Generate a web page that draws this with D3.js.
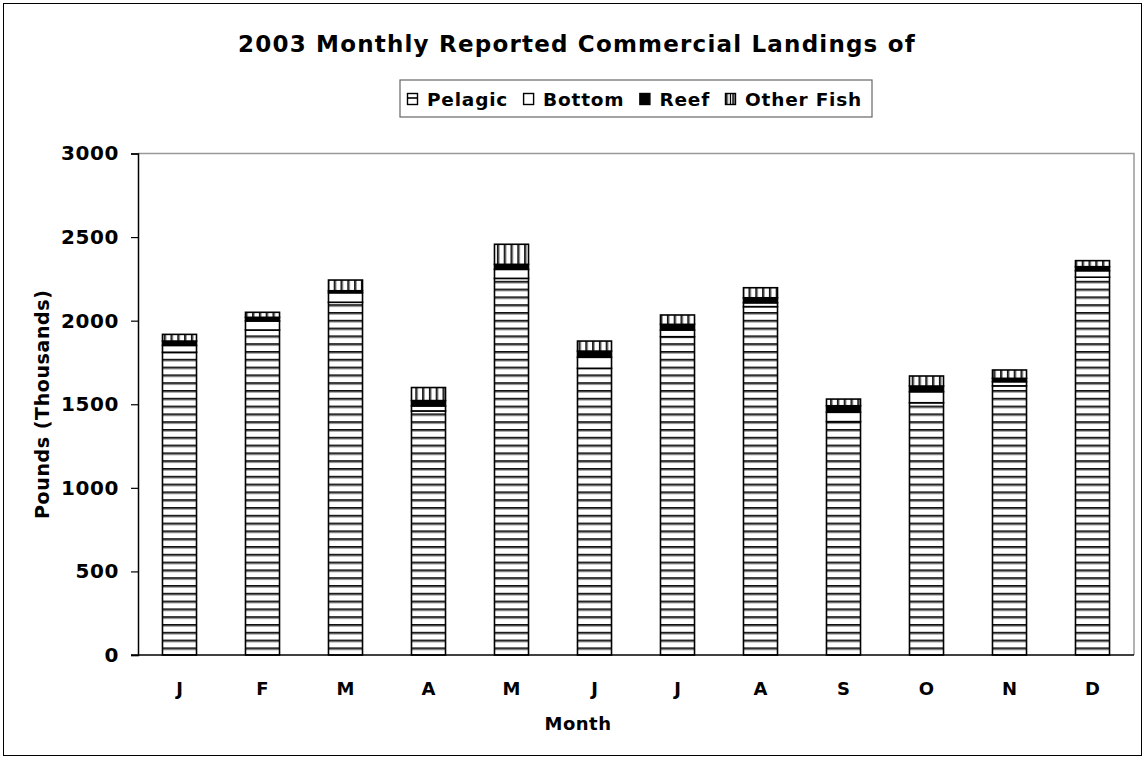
<!DOCTYPE html>
<html lang="en">
<head>
    <meta charset="UTF-8">
    <title>2003 Monthly Reported Commercial Landings</title>
    <script src="https://d3js.org/d3.v7.min.js"></script>
    <style>
        body { margin: 0; background: #fff; }
        text { font-family: "DejaVu Sans", Verdana, sans-serif; font-weight: bold; fill: #000; }
    </style>
</head>
<body>
    <script>
        // values in thousands of pounds
        const months = ["J","F","M","A","M","J","J","A","S","O","N","D"];
        const pelagic = [1811, 1944, 2110, 1460, 2253, 1715, 1904, 2084, 1396, 1509, 1610, 2260];
        const bottom  = [41, 54, 57, 30, 54, 66, 40, 23, 56, 66, 25, 39];
        const reef    = [26, 22, 12, 32, 30, 37, 34, 30, 39, 34, 20, 24];
        const other   = [40, 30, 64, 78, 120, 60, 56, 60, 40, 60, 50, 36];
        const seriesNames = ["Pelagic", "Bottom", "Reef", "Other Fish"];
        const yTicks = [0, 500, 1000, 1500, 2000, 2500, 3000];

        const width = 1145, height = 759;
        const plotLeft = 138, plotRight = 1134, plotTop = 153.5, plotBottom = 655;

        const svg = d3.select("body").append("svg")
            .attr("width", width)
            .attr("height", height);

        const defs = svg.append("defs");
        // horizontal stripes for pelagic
        const ph = defs.append("pattern").attr("id", "pat-pelagic")
            .attr("patternUnits", "userSpaceOnUse")
            .attr("width", 8).attr("height", 7.8);
        ph.append("rect").attr("width", 8).attr("height", 7.8).attr("fill", "#fff");
        ph.append("rect").attr("y", 0).attr("width", 8).attr("height", 1.8).attr("fill", "#111");
        ph.append("rect").attr("y", 1.8).attr("width", 8).attr("height", 1).attr("fill", "#999");
        // vertical stripes for other fish
        const pv = defs.append("pattern").attr("id", "pat-other")
            .attr("patternUnits", "userSpaceOnUse")
            .attr("width", 6.8).attr("height", 8)
            .attr("x", 0.5);
        pv.append("rect").attr("width", 6.8).attr("height", 8).attr("fill", "#fff");
        pv.append("rect").attr("x", 0).attr("width", 1.8).attr("height", 8).attr("fill", "#111");
        pv.append("rect").attr("x", 1.8).attr("width", 1).attr("height", 8).attr("fill", "#999");

        const fills = ["url(#pat-pelagic)", "#fff", "#000", "url(#pat-other)"];

        // outer chart border
        svg.append("rect")
            .attr("x", 3.5).attr("y", 3.5)
            .attr("width", width - 7).attr("height", height - 7)
            .attr("fill", "none").attr("stroke", "#000").attr("stroke-width", 1);

        const x = d3.scaleBand()
            .domain(d3.range(months.length))
            .range([plotLeft, plotRight])
            .paddingInner(0.59)
            .paddingOuter(0.295);

        const y = d3.scaleLinear()
            .domain([0, 3000])
            .range([plotBottom, plotTop]);

        // plot area border (top and right, grey)
        svg.append("path")
            .attr("d", `M${plotLeft},${plotTop}H${plotRight}V${plotBottom}`)
            .attr("fill", "none").attr("stroke", "#999").attr("stroke-width", 1.5);

        const rows = months.map((m, i) => ({
            i: i,
            Pelagic: pelagic[i], Bottom: bottom[i], Reef: reef[i], "Other Fish": other[i]
        }));
        const stacked = d3.stack().keys(seriesNames)(rows);

        svg.selectAll("g.series")
            .data(stacked)
            .join("g")
            .attr("class", "series")
            .attr("fill", (d, k) => fills[k])
            .selectAll("rect")
            .data(d => d)
            .join("rect")
            .attr("x", d => x(d.data.i))
            .attr("width", x.bandwidth())
            .attr("y", d => y(d[1]))
            .attr("height", d => y(d[0]) - y(d[1]))
            .attr("stroke", "#000")
            .attr("stroke-width", 1.6);

        // y axis
        const yAxis = svg.append("g")
            .attr("transform", `translate(${plotLeft},0)`)
            .call(d3.axisLeft(y).tickValues(yTicks).tickSize(7).tickPadding(12).tickFormat(d3.format("d")));
        yAxis.select(".domain").attr("stroke", "#000").attr("stroke-width", 1.5);
        yAxis.selectAll(".tick line").attr("stroke", "#000").attr("stroke-width", 1.2);
        yAxis.selectAll("text").style("font-size", "20px").style("letter-spacing", "0.6px");

        // x axis
        const xAxis = svg.append("g")
            .attr("transform", `translate(0,${plotBottom})`)
            .call(d3.axisBottom(x).tickSize(0).tickPadding(27).tickFormat(i => months[i]));
        xAxis.select(".domain").attr("d", `M${plotLeft - 7},0H${plotRight}`)
            .attr("stroke", "#000").attr("stroke-width", 1.5);
        xAxis.selectAll("text").style("font-size", "18px");

        // titles
        svg.append("text")
            .attr("x", 577).attr("y", 52)
            .attr("text-anchor", "middle")
            .style("font-size", "23px")
            .style("letter-spacing", "1.2px")
            .text("2003 Monthly Reported Commercial Landings of");

        svg.append("text")
            .attr("x", 578).attr("y", 730)
            .attr("text-anchor", "middle")
            .style("font-size", "18px")
            .style("letter-spacing", "0.5px")
            .text("Month");

        svg.append("text")
            .attr("transform", `translate(49,${(plotTop + plotBottom) / 2}) rotate(-90)`)
            .attr("text-anchor", "middle")
            .style("font-size", "19px")
            .style("letter-spacing", "0.6px")
            .text("Pounds (Thousands)");

        // legend
        const legendX = 400, legendY = 80, legendW = 472, legendH = 37;
        const lg = svg.append("g").attr("transform", `translate(${legendX},${legendY})`);
        lg.append("rect")
            .attr("width", legendW).attr("height", legendH)
            .attr("fill", "#fff").attr("stroke", "#666").attr("stroke-width", 1.2);
        const items = lg.selectAll("g.item")
            .data(seriesNames)
            .join("g")
            .attr("class", "item");
        items.append("rect")
            .attr("x", 0.5).attr("y", 13.5)
            .attr("width", 10).attr("height", 11)
            .attr("fill", (d, k) => k === 0 ? "#fff" : fills[k])
            .attr("stroke", "#000").attr("stroke-width", 1.4);
        items.filter((d, k) => k === 0).append("line")
            .attr("x1", 0.5).attr("x2", 10.5).attr("y1", 18).attr("y2", 18)
            .attr("stroke", "#000").attr("stroke-width", 1.6);
        items.filter((d, k) => k === 3).append("line")
            .attr("x1", 5.5).attr("x2", 5.5).attr("y1", 13.5).attr("y2", 24.5)
            .attr("stroke", "#000").attr("stroke-width", 1.3);
        items.append("text")
            .attr("x", 20).attr("y", 26)
            .style("font-size", "18.5px")
            .style("letter-spacing", "0.8px")
            .text(d => d);
        // lay items side by side from their text widths
        let cursor = 7;
        items.each(function () {
            const w = 20 + d3.select(this).select("text").node().getComputedTextLength();
            d3.select(this).attr("transform", `translate(${cursor},0)`);
            cursor += w + 15;
        });
    </script>
</body>
</html>
